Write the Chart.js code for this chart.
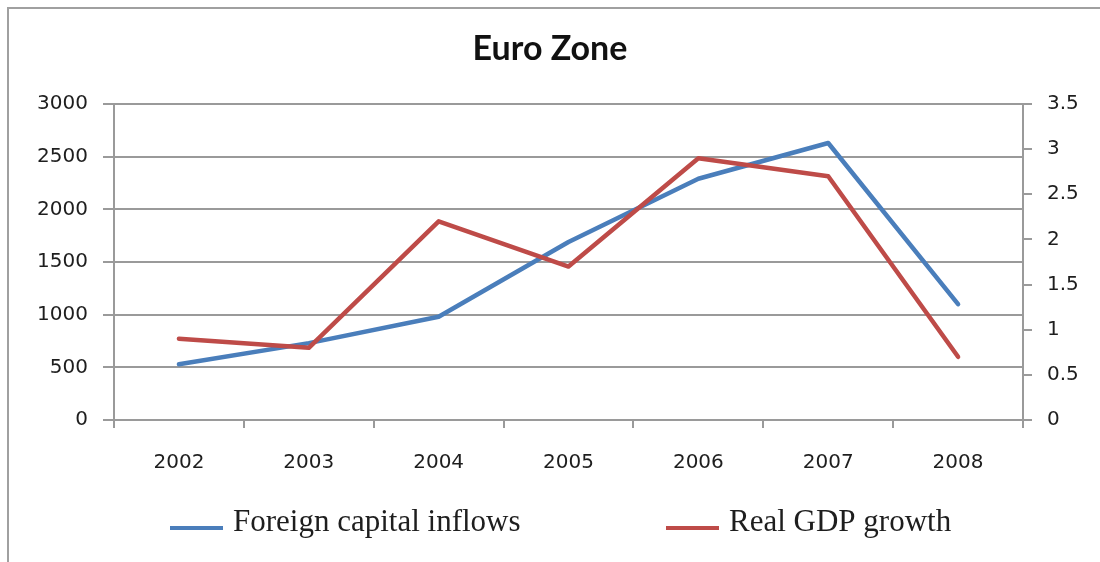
<!DOCTYPE html>
<html>
<head>
<meta charset="utf-8">
<script src="https://cdn.jsdelivr.net/npm/chart.js@4/dist/chart.umd.min.js"></script>
<style>
  html, body { margin: 0; padding: 0; background: #ffffff; }
  #wrap { position: relative; width: 1100px; height: 562px; }
</style>
</head>
<body>
<div id="wrap"><canvas id="chart" width="1100" height="562"></canvas></div>
<script>
// ===== DATA =====
const years = ["2002", "2003", "2004", "2005", "2006", "2007", "2008"];
const capitalInflows = [530, 730, 980, 1690, 2290, 2630, 1100];
const gdpGrowth = [0.9, 0.8, 2.2, 1.7, 2.9, 2.7, 0.7];

const blue = "#4A7EBB";
const red = "#BE4B48";
const axisGray = "#9a9a9a";
const textColor = "#1e1e1e";

// frame lines (top + left) like the original picture
const framePlugin = {
    id: "frame",
    beforeDraw(chart) {
        const ctx = chart.ctx;
        ctx.save();
        ctx.strokeStyle = "#a0a0a0";
        ctx.lineWidth = 2;
        ctx.beginPath();
        ctx.moveTo(8, chart.height);
        ctx.lineTo(8, 8);
        ctx.lineTo(chart.width, 8);
        ctx.stroke();
        ctx.restore();
    }
};

// legend drawn under the plot, line sample + serif text
const legendPlugin = {
    id: "bottomLegend",
    afterDraw(chart) {
        const ctx = chart.ctx;
        const items = [
            { ds: chart.data.datasets[0], x: 170 },
            { ds: chart.data.datasets[1], x: 666 }
        ];
        ctx.save();
        ctx.font = "31px 'Liberation Serif', 'DejaVu Serif', serif";
        ctx.textBaseline = "alphabetic";
        ctx.fillStyle = textColor;
        items.forEach(it => {
            ctx.strokeStyle = it.ds.borderColor;
            ctx.lineWidth = 4;
            ctx.beginPath();
            ctx.moveTo(it.x, 528);
            ctx.lineTo(it.x + 53, 528);
            ctx.stroke();
            ctx.fillText(it.ds.label, it.x + 63, 531);
        });
        ctx.restore();
    }
};

const plainTick = value => String(value);

const ctx = document.getElementById("chart").getContext("2d");

new Chart(ctx, {
    type: "line",
    data: {
        labels: years,
        datasets: [
            {
                label: "Foreign capital inflows",
                data: capitalInflows,
                borderColor: blue,
                borderWidth: 4.5,
                yAxisID: "y",
                order: 2
            },
            {
                label: "Real GDP growth",
                data: gdpGrowth,
                borderColor: red,
                borderWidth: 4.5,
                yAxisID: "y1",
                order: 1
            }
        ]
    },
    options: {
        responsive: false,
        animation: false,
        layout: { padding: 0 },
        elements: {
            point: { radius: 0 },
            line: { tension: 0, borderJoinStyle: "round", borderCapStyle: "round" }
        },
        plugins: {
            legend: { display: false },
            tooltip: { enabled: false },
            title: {
                display: true,
                text: "Euro Zone",
                color: "#111111",
                font: { family: "Lato", size: 34, weight: "bold", lineHeight: 1.2 },
                padding: { top: 29, bottom: 34.2 }
            }
        },
        scales: {
            x: {
                offset: true,
                grid: {
                    offset: true,
                    drawOnChartArea: false,
                    drawTicks: true,
                    tickLength: 8,
                    color: axisGray,
                    lineWidth: 2
                },
                border: { display: true, color: axisGray, width: 2 },
                ticks: {
                    color: textColor,
                    padding: 23,
                    maxRotation: 0,
                    font: { family: "DejaVu Sans", size: 20 }
                },
                afterFit(scale) { scale.height = 142; }
            },
            y: {
                position: "left",
                min: 0,
                max: 3000,
                ticks: {
                    stepSize: 500,
                    color: textColor,
                    padding: 15,
                    callback: plainTick,
                    font: { family: "DejaVu Sans", size: 20 }
                },
                grid: {
                    color: axisGray,
                    lineWidth: 2,
                    tickLength: 11
                },
                border: { display: true, color: axisGray, width: 2 },
                afterFit(scale) { scale.width = 114; }
            },
            y1: {
                position: "right",
                min: 0,
                max: 3.5,
                ticks: {
                    stepSize: 0.5,
                    color: textColor,
                    padding: 15,
                    callback: plainTick,
                    font: { family: "DejaVu Sans", size: 20 }
                },
                grid: {
                    drawOnChartArea: false,
                    color: axisGray,
                    lineWidth: 2,
                    tickLength: 9
                },
                border: { display: true, color: axisGray, width: 2 },
                afterFit(scale) { scale.width = 77; }
            }
        }
    },
    plugins: [framePlugin, legendPlugin]
});
</script>
</body>
</html>
